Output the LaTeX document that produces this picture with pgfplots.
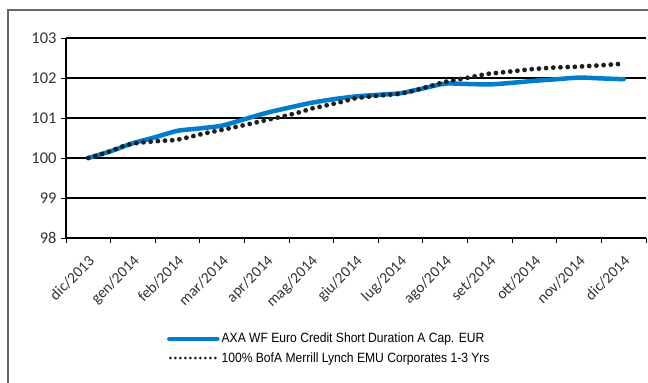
\documentclass[border=0pt]{standalone}
\usepackage{pgfplots}
\pgfplotsset{compat=1.18}
\usepackage{fontspec}
\setmainfont{Liberation Sans}[FakeStretch=0.9]
\newfontfamily\tickfont{Carlito}

\definecolor{axablue}{RGB}{0,125,205}
\definecolor{idxdot}{RGB}{30,30,30}

\begin{document}
\begin{tikzpicture}
\useasboundingbox (0bp,0bp) rectangle (648bp,-383bp);
% outer frame (cut at right and bottom)
\draw[black!60, line width=1.3bp] (8bp,-420bp) -- (8bp,-10bp) -- (700bp,-10bp);

\begin{axis}[
    at={(66bp,-38bp)}, anchor=north west,
    scale only axis,
    width=580bp, height=200bp,
    xmin=-0.5, xmax=12.5,
    ymin=98, ymax=103,
    ytick={98,...,103},
    xtick={0,...,12},
    xticklabels={dic/2013,gen/2014,feb/2014,mar/2014,apr/2014,mag/2014,giu/2014,lug/2014,ago/2014,set/2014,ott/2014,nov/2014,dic/2014},
    minor xtick={-0.5,0.5,...,12.5},
    major x tick style={draw=none},
    tick align=outside,
    major tick length=5bp, minor tick length=5bp,
    tick style={black, line width=1bp},
    axis x line*=bottom, axis y line*=left,
    axis line style={black, line width=1.3bp, -},
    ymajorgrids,
    major grid style={black, line width=1.3bp},
    /pgf/number format/assume math mode=true,
    ticklabel style={font=\tickfont\fontsize{16.5}{18}\selectfont, text=black!80},
    yticklabel style={xshift=-1bp},
    xticklabel style={rotate=45, anchor=north east, font=\tickfont\fontsize{15.5}{17}\selectfont, xshift=-5bp, yshift=-4bp},
    legend style={at={(rel axis cs:0.174,-0.465)}, anchor=north west, draw=none, fill=none,
        font=\fontsize{13.5}{15}\selectfont, row sep=4bp, inner sep=0pt,
        /tikz/every even column/.append style={column sep=14bp}},
    legend cell align=left,
    legend image code/.code={\draw[#1] (0bp,0bp) -- (48bp,0bp);},
    clip=false,
]
\addplot[axablue, line width=4.5bp, line cap=round, line join=round, smooth, tension=0.4] coordinates {
    (0,100.00) (0.5,100.17) (1.0,100.37) (1.5,100.52) (2.0,100.68)
    (2.5,100.74) (3.0,100.81) (3.5,100.97) (4.0,101.13) (4.5,101.26)
    (5.0,101.38) (5.5,101.47) (6.0,101.54) (6.5,101.58) (7.0,101.62)
    (7.5,101.74) (8.0,101.86) (8.5,101.85) (9.0,101.84) (9.5,101.88)
    (10.0,101.93) (10.5,101.97) (11.0,102.01) (11.5,101.99) (12.0,101.97)
};
\addlegendentry{AXA WF Euro Credit Short Duration A Cap. EUR}
\addplot[idxdot, line width=4.8bp, line cap=round, dash pattern=on 0bp off 7.2bp,
    legend image code/.code={\draw[idxdot, line width=3bp, line cap=round, dash pattern=on 0bp off 5bp] (1bp,0bp) -- (48bp,0bp);}] coordinates {
    (0,100.00) (0.25,100.08) (0.5,100.17) (0.74,100.28) (0.99,100.36)
    (1.3,100.40) (1.64,100.43) (1.97,100.45) (2.29,100.53) (2.62,100.62)
    (2.98,100.70) (3.32,100.78) (3.65,100.86) (3.99,100.95) (4.33,101.03)
    (4.69,101.13) (5.02,101.24) (5.4,101.33) (5.74,101.42) (6.0,101.50)
    (6.5,101.56) (6.93,101.60) (7.15,101.64) (7.42,101.72) (7.7,101.81)
    (7.94,101.89) (8.2,101.95) (8.43,101.99) (8.92,102.10) (9.44,102.16)
    (9.93,102.22) (10.4,102.26) (10.9,102.28) (11.39,102.31) (11.9,102.35)
};
\addlegendentry{100\% BofA Merrill Lynch EMU Corporates 1-3 Yrs}
\end{axis}
\end{tikzpicture}
\end{document}
